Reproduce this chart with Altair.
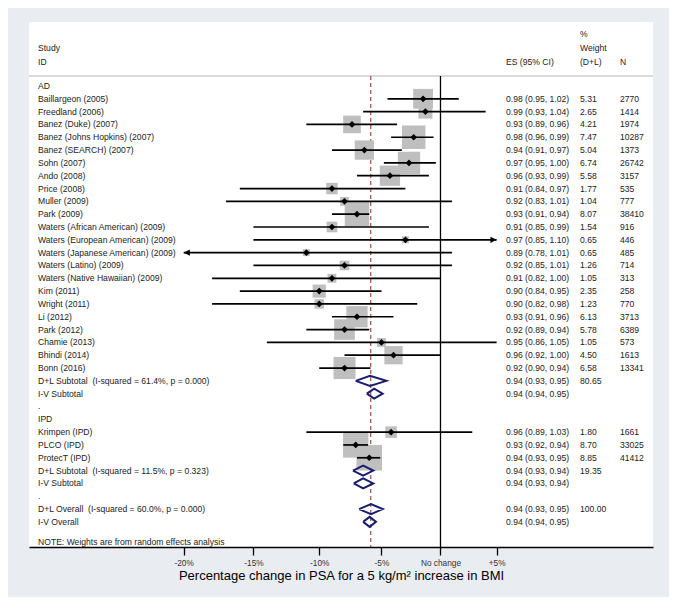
import altair as alt
import pandas as pd

# ---------------- data ----------------
row_labels = [
    "AD", "Baillargeon (2005)", "Freedland (2006)", "Banez (Duke) (2007)",
    "Banez (Johns Hopkins) (2007)", "Banez (SEARCH) (2007)", "Sohn (2007)",
    "Ando (2008)", "Price (2008)", "Muller (2009)", "Park (2009)",
    "Waters (African American) (2009)", "Waters (European American) (2009)",
    "Waters (Japanese American) (2009)", "Waters (Latino) (2009)",
    "Waters (Native Hawaiian) (2009)", "Kim (2011)", "Wright (2011)",
    "Li (2012)", "Park (2012)", "Chamie (2013)", "Bhindi (2014)", "Bonn (2016)",
    "D+L Subtotal\u00a0 (I-squared = 61.4%, p = 0.000)", "I-V Subtotal", ".",
    "IPD", "Krimpen (IPD)", "PLCO (IPD)", "ProtecT (IPD)",
    "D+L Subtotal\u00a0 (I-squared = 11.5%, p = 0.323)", "I-V Subtotal", ".",
    "D+L Overall\u00a0 (I-squared = 60.0%, p = 0.000)", "I-V Overall",
]
es_labels = [
    "", "0.98 (0.95, 1.02)", "0.99 (0.93, 1.04)", "0.93 (0.89, 0.96)",
    "0.98 (0.96, 0.99)", "0.94 (0.91, 0.97)", "0.97 (0.95, 1.00)",
    "0.96 (0.93, 0.99)", "0.91 (0.84, 0.97)", "0.92 (0.83, 1.01)",
    "0.93 (0.91, 0.94)", "0.91 (0.85, 0.99)", "0.97 (0.85, 1.10)",
    "0.89 (0.78, 1.01)", "0.92 (0.85, 1.01)", "0.91 (0.82, 1.00)",
    "0.90 (0.84, 0.95)", "0.90 (0.82, 0.98)", "0.93 (0.91, 0.96)",
    "0.92 (0.89, 0.94)", "0.95 (0.86, 1.05)", "0.96 (0.92, 1.00)",
    "0.92 (0.90, 0.94)", "0.94 (0.93, 0.95)", "0.94 (0.94, 0.95)", "", "",
    "0.96 (0.89, 1.03)", "0.93 (0.92, 0.94)", "0.94 (0.93, 0.95)",
    "0.94 (0.93, 0.94)", "0.94 (0.93, 0.94)", "",
    "0.94 (0.93, 0.95)", "0.94 (0.94, 0.95)",
]
weight_labels = [
    "", "5.31", "2.65", "4.21", "7.47", "5.04", "6.74", "5.58", "1.77", "1.04",
    "8.07", "1.54", "0.65", "0.65", "1.26", "1.05", "2.35", "1.23", "6.13",
    "5.78", "1.05", "4.50", "6.58", "80.65", "", "", "", "1.80", "8.70", "8.85",
    "19.35", "", "", "100.00", "",
]
n_labels = [
    "", "2770", "1414", "1974", "10287", "1373", "26742", "3157", "535", "777",
    "38410", "916", "446", "485", "714", "313", "258", "770", "3713", "6389",
    "573", "1613", "13341", "", "", "", "", "1661", "33025", "41412",
    "", "", "", "", "",
]

# individual studies (row index, estimate, CI, % weight)
study_row = [1, 2, 3, 4, 5, 6, 7, 8, 9, 10, 11, 12, 13, 14, 15, 16, 17, 18,
             19, 20, 21, 22, 27, 28, 29]
study_es = [0.985, 0.987, 0.926, 0.977, 0.936, 0.973, 0.957, 0.91, 0.92, 0.93,
            0.91, 0.97, 0.89, 0.92, 0.91, 0.90, 0.90, 0.93, 0.92, 0.95, 0.96,
            0.92, 0.958, 0.929, 0.94]
study_lo = [0.955, 0.935, 0.89, 0.958, 0.91, 0.952, 0.93, 0.84, 0.83, 0.91,
            0.85, 0.85, 0.78, 0.85, 0.82, 0.84, 0.82, 0.91, 0.89, 0.86, 0.92,
            0.90, 0.89, 0.919, 0.93]
study_hi = [1.016, 1.04, 0.963, 0.994, 0.967, 0.996, 0.99, 0.97, 1.01, 0.94,
            0.99, 1.10, 1.01, 1.01, 1.00, 0.95, 0.98, 0.96, 0.94, 1.05, 1.00,
            0.941, 1.028, 0.939, 0.949]
study_weight = [5.31, 2.65, 4.21, 7.47, 5.04, 6.74, 5.58, 1.77, 1.04, 8.07,
                1.54, 0.65, 0.65, 1.26, 1.05, 2.35, 1.23, 6.13, 5.78, 1.05,
                4.50, 6.58, 1.80, 8.70, 8.85]

# pooled estimates (diamonds)
pooled_row = [23, 24, 30, 31, 33, 34]
pooled_es = [0.9406, 0.944, 0.935, 0.935, 0.9414, 0.9403]
pooled_lo = [0.929, 0.938, 0.9268, 0.9274, 0.9317, 0.935]
pooled_hi = [0.954, 0.951, 0.9433, 0.9433, 0.951, 0.9455]

overall_es = 0.9412
ci_min, ci_max = 0.80, 1.05          # x range of the CI plot region
tick_values = [0.80, 0.85, 0.90, 0.95, 1.00, 1.05]

# ---------------- layout constants ----------------
FONT = "Liberation Sans"
TXT = "#222222"
FS = 8.6
X_DOMAIN = [0.6994, 1.2028]
Y_DOMAIN = [-4.99, 35.96]
HDR_ROW = -0.78
HALF_H = 0.39

xscale = alt.Scale(type="log", domain=X_DOMAIN, nice=False, zero=False)
yscale = alt.Scale(domain=Y_DOMAIN, reverse=True, nice=False, zero=False)
xaxis = alt.Axis(
    values=tick_values,
    labelExpr="datum.value == 1 ? 'No change' : (datum.value > 1 ? '+' : '-') + format(abs(datum.value - 1) * 100, '.0f') + '%'",
    title="Percentage change in PSA for a 5 kg/m\u00b2 increase in BMI",
    titleFont=FONT, titleFontSize=13, titleFontWeight="normal", titleColor="black",
    titlePadding=3, labelFont=FONT, labelFontSize=8.3, labelColor="#333333",
    labelPadding=3, tickSize=8, tickColor="black", tickWidth=1.3,
    domainColor="black", domainWidth=1.5, grid=False, labelFlush=False,
    labelOverlap=False,
)


def X(field):
    return alt.X(field, type="quantitative", scale=xscale, axis=xaxis)


def Y(field):
    return alt.Y(field, type="quantitative", scale=yscale, axis=None)


# ---------------- tables ----------------
text_df = pd.DataFrame({
    "row": list(range(len(row_labels))),
    "label": row_labels,
    "es_txt": es_labels,
    "w_txt": weight_labels,
    "n_txt": n_labels,
})

study_df = pd.DataFrame({
    "row": study_row, "es": study_es, "lo": study_lo, "hi": study_hi,
    "w": study_weight,
})
study_df["lo_c"] = study_df["lo"].clip(lower=ci_min)
study_df["hi_c"] = study_df["hi"].clip(upper=ci_max)

arrows = []
for r, lo, hi in zip(study_row, study_lo, study_hi):
    if lo < ci_min:
        arrows.append({"row": r, "x": ci_min, "dir": "left"})
    if hi > ci_max:
        arrows.append({"row": r, "x": ci_max, "dir": "right"})
arrow_df = pd.DataFrame(arrows)

poly = []
for g, (r, e, lo, hi) in enumerate(zip(pooled_row, pooled_es, pooled_lo, pooled_hi)):
    pts = [(lo, r), (e, r - HALF_H), (hi, r), (e, r + HALF_H), (lo, r)]
    for k, (px, py) in enumerate(pts):
        poly.append({"g": g, "k": k, "x": px, "y": py})
poly_df = pd.DataFrame(poly)

ref_df = pd.DataFrame({"x": [1.0], "y1": [HDR_ROW], "y2": [Y_DOMAIN[1]]})
ovr_df = pd.DataFrame({"x": [overall_es], "y1": [HDR_ROW], "y2": [Y_DOMAIN[1]]})
hdr_df = pd.DataFrame({"y": [HDR_ROW]})

header_df = pd.DataFrame({
    "txt": ["Study", "ID", "ES (95% CI)", "%", "Weight", "(D+L)", "N"],
    "row": [-2.96, -1.87, -1.87, -4.06, -2.96, -1.87, -1.87],
    "col": ["a", "a", "b", "c", "c", "c", "d"],
})
note_df = pd.DataFrame({"txt": ["NOTE: Weights are from random effects analysis"],
                        "row": [35.57]})

# ---------------- layers ----------------
hdr_line = alt.Chart(hdr_df).mark_rule(color="#cfcfcf", strokeWidth=1.6).encode(y=Y("y"))

null_line = alt.Chart(ref_df).mark_rule(color="black", strokeWidth=1.3).encode(
    x=X("x"), y=Y("y1"), y2="y2")

ovr_line = alt.Chart(ovr_df).mark_rule(color="#a64a3c", strokeWidth=1.2,
                                       strokeDash=[4, 3]).encode(
    x=X("x"), y=Y("y1"), y2="y2")

squares = alt.Chart(study_df).mark_square(color="#bfbfbf", opacity=1).encode(
    x=X("es"), y=Y("row"),
    size=alt.Size("w:Q", scale=alt.Scale(domain=[0, 10], range=[0, 740]), legend=None),
)

ci = alt.Chart(study_df).mark_rule(color="black", strokeWidth=1.7).encode(
    x=X("lo_c"), x2="hi_c", y=Y("row"))

arrow_marks = alt.Chart(arrow_df).mark_point(filled=True, color="black", opacity=1,
                                             size=60).encode(
    x=X("x"), y=Y("row"),
    shape=alt.Shape("dir:N", scale=alt.Scale(
        domain=["left", "right"],
        range=["M0,0L1.6,-0.8L1.6,0.8Z", "M0,0L-1.6,-0.8L-1.6,0.8Z"]), legend=None),
)

points = alt.Chart(study_df).mark_point(shape="diamond", filled=True, color="black",
                                        opacity=1, size=45).encode(
    x=X("es"), y=Y("row"))

diamonds = alt.Chart(poly_df).mark_line(color="#1c1c6e", strokeWidth=2,
                                        strokeJoin="miter").encode(
    x=X("x"), y=Y("y"), detail="g:N", order="k:Q")


def text_layer(df, field, xpx, flt=None):
    ch = alt.Chart(df)
    if flt:
        ch = ch.transform_filter(flt)
    return ch.mark_text(align="left", baseline="middle", font=FONT, fontSize=FS,
                        color=TXT).encode(x=alt.value(xpx), y=Y("row"), text=field + ":N")


lab_t = text_layer(text_df, "label", 9)
es_t = text_layer(text_df, "es_txt", 477, "datum.es_txt != ''")
w_t = text_layer(text_df, "w_txt", 551, "datum.w_txt != ''")
n_t = text_layer(text_df, "n_txt", 591, "datum.n_txt != ''")
h_a = text_layer(header_df, "txt", 9, "datum.col == 'a'")
h_b = text_layer(header_df, "txt", 477, "datum.col == 'b'")
h_c = text_layer(header_df, "txt", 551, "datum.col == 'c'")
h_d = text_layer(header_df, "txt", 591, "datum.col == 'd'")
note_t = text_layer(note_df, "txt", 9)

chart = alt.layer(
    hdr_line, null_line, ovr_line, squares, ci, arrow_marks, points, diamonds,
    lab_t, es_t, w_t, n_t, h_a, h_b, h_c, h_d, note_t,
).properties(
    width=624, height=525,
    padding={"left": 21, "top": 14, "right": 16, "bottom": 50},
    autosize=alt.AutoSizeParams(type="none"),
    background="#e9edf2",
).configure_view(fill="white", stroke=None)

chart.save("out.html", embed_options={"renderer": "svg", "actions": False})
